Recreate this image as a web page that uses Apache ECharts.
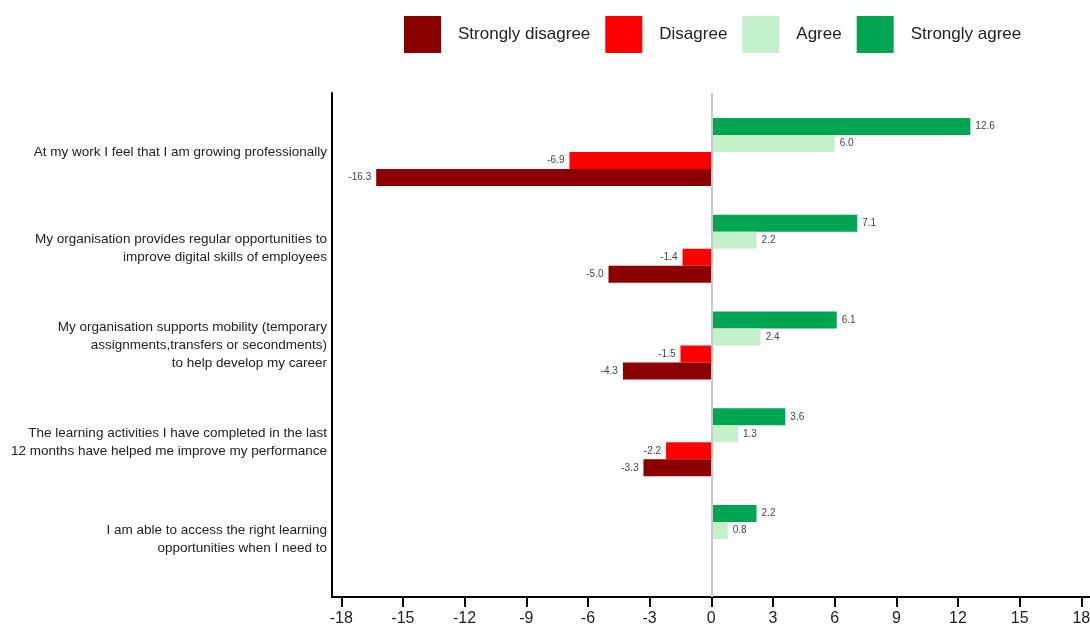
<!DOCTYPE html>
<html>
<head>
<meta charset="utf-8">
<script src="https://cdn.jsdelivr.net/npm/echarts@6/dist/echarts.min.js"></script>
<style>
  html, body { margin: 0; padding: 0; background: #fff; }
  #chart { width: 1090px; height: 627px; }
</style>
</head>
<body>
<div id="chart"></div>
<script>
// categories, top to bottom as in the picture
var categories = [
  'At my work I feel that I am growing professionally',
  'My organisation provides regular opportunities to\nimprove digital skills of employees',
  'My organisation supports mobility (temporary\nassignments,transfers or secondments)\nto help develop my career',
  'The learning activities I have completed in the last\n12 months have helped me improve my performance',
  'I am able to access the right learning\nopportunities when I need to'
]
var stronglyDisagree = [-16.3, -5.0, -4.3, -3.3, null]
var disagree = [-6.9, -1.4, -1.5, -2.2, null]
var agree = [6.0, 2.2, 2.4, 1.3, 0.8]
var stronglyAgree = [12.6, 7.1, 6.1, 3.6, 2.2]
var xTicks = [-18, -15, -12, -9, -6, -3, 0, 3, 6, 9, 12, 15, 18]

var seriesNames = ['Strongly disagree', 'Disagree', 'Agree', 'Strongly agree']
var seriesColors = ['#8b0000', '#ff0000', '#c4f0c9', '#00a552']
var seriesValues = [stronglyDisagree, disagree, agree, stronglyAgree]

var font = "'Liberation Sans', Arial, sans-serif"
var chart = echarts.init(document.getElementById('chart'))

// category axis runs bottom-up, so feed it reversed;
// first series sits at the top of each band, so add them last-to-first
var barSeries = []
for (var i = seriesValues.length - 1; i >= 0; i--) {
  barSeries.push({
    name: seriesNames[i],
    type: 'bar',
    xAxisIndex: 1,
    yAxisIndex: 1,
    barWidth: 17,
    barGap: '0%',
    itemStyle: { color: seriesColors[i] },
    label: {
      show: true,
      position: i < 2 ? 'left' : 'right',
      distance: 5,
      fontSize: 10,
      fontFamily: font,
      color: '#444',
      formatter: function(p) {
        return p.value == null ? '' : Number(p.value).toFixed(1)
      }
    },
    data: seriesValues[i].slice().reverse()
  })
}

chart.setOption({
  animation: false,
  textStyle: { fontFamily: font },
  legend: {
    data: seriesNames,
    left: 404,
    top: 16,
    padding: 0,
    icon: 'rect',
    itemWidth: 37,
    itemHeight: 37,
    itemGap: 15,
    textStyle: { fontSize: 17, color: '#222', fontFamily: font, padding: [0, 0, 0, 12] }
  },
  grid: [
    { left: 332, right: 0, top: 93, bottom: 30, outerBoundsMode: 'none' },
    { left: 332, right: 0, top: 103.6, bottom: 39.6, outerBoundsMode: 'none' }
  ],
  xAxis: [{
    gridIndex: 0,
    type: 'value',
    min: -18.45,
    max: 18.42,
    axisLine: { onZero: false, lineStyle: { color: '#000', width: 2 } },
    axisTick: { customValues: xTicks, length: 10, lineStyle: { color: '#000', width: 2 } },
    axisLabel: { customValues: xTicks, fontSize: 16, color: '#222', margin: 14 },
    splitLine: { show: false }
  }, {
    gridIndex: 1,
    type: 'value',
    min: -18.45,
    max: 18.42,
    show: false
  }],
  yAxis: [{
    gridIndex: 0,
    type: 'value',
    min: 0,
    max: 1,
    axisLine: { show: true, onZero: false, lineStyle: { color: '#000', width: 2 } },
    axisTick: { show: false },
    axisLabel: { show: false },
    splitLine: { show: false }
  }, {
    gridIndex: 1,
    type: 'category',
    data: categories.slice().reverse(),
    axisLine: { show: false, onZero: false },
    axisTick: { show: false },
    axisLabel: { fontSize: 13.5, color: '#222', margin: 5, lineHeight: 18 }
  }],
  series: [{
    // zero line
    type: 'line',
    xAxisIndex: 0,
    yAxisIndex: 0,
    data: [],
    markLine: {
      silent: true,
      symbol: 'none',
      label: { show: false },
      lineStyle: { color: '#c8c8c8', width: 2, type: 'solid' },
      data: [{ xAxis: 0 }]
    }
  }].concat(barSeries)
})
</script>
</body>
</html>
